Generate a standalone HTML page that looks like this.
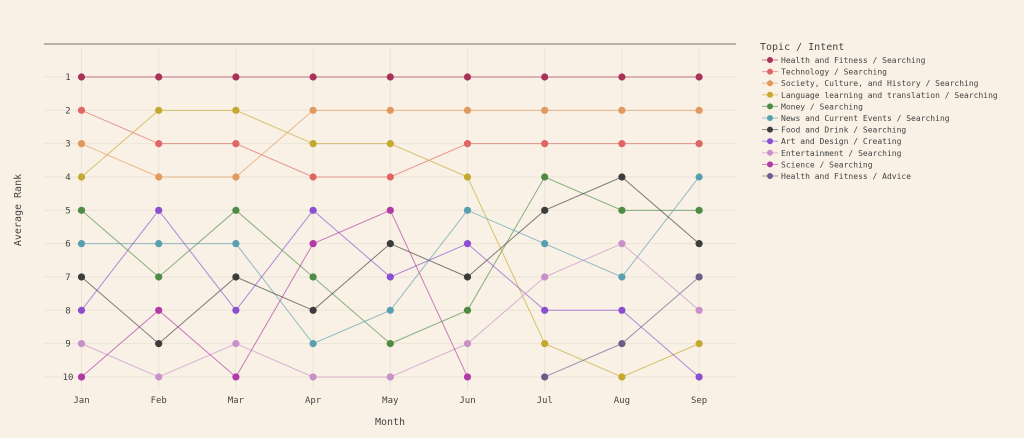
<!DOCTYPE html><html><head><style>body{margin:0;background:#f9f1e5}svg{display:block}text{font-family:"DejaVu Sans Mono","Liberation Mono",monospace;fill:#444}</style></head><body>
<svg width="1024" height="438" xmlns="http://www.w3.org/2000/svg">
<rect width="1024" height="438" fill="#f9f1e5"/>
<g id="grid" stroke="#ece4d6" stroke-width="1"></g>
<line x1="44" y1="44" x2="736" y2="44" stroke="#bbb0a6" stroke-width="2"/>
<g id="lbl" font-size="9" text-anchor="middle"></g>
<text x="390" y="425" font-size="10" text-anchor="middle">Month</text>
<text transform="translate(21,210) rotate(-90)" font-size="10" text-anchor="middle">Average Rank</text>
<g id="data"></g>
<g id="leg" font-size="8"></g>
<text x="760" y="50" font-size="10">Topic / Intent</text>
</svg>
<script>
const X=i=>81.5+i*77.2, Y=r=>77+(r-1)*33.33;
const ns="http://www.w3.org/2000/svg";
function el(p,t,a,txt){const e=document.createElementNS(ns,t);for(const k in a)e.setAttribute(k,a[k]);if(txt)e.textContent=txt;document.getElementById(p).appendChild(e);return e;}
const m=["Jan","Feb","Mar","Apr","May","Jun","Jul","Aug","Sep"];
for(let i=0;i<9;i++){el("grid","line",{x1:X(i),x2:X(i),y1:48,y2:390});el("lbl","text",{x:X(i),y:403},m[i]);}
for(let r=1;r<=10;r++){el("grid","line",{x1:44,x2:736,y1:Y(r),y2:Y(r)});el("lbl","text",{x:68,y:Y(r)+3},String(r));}
const S=[["Health and Fitness / Searching","#a8325a",[1,1,1,1,1,1,1,1,1]],
["Technology / Searching","#e06666",[2,3,3,4,4,3,3,3,3]],
["Society, Culture, and History / Searching","#e0995e",[3,4,4,2,2,2,2,2,2]],
["Language learning and translation / Searching","#c4a830",[4,2,2,3,3,4,9,10,9]],
["Money / Searching","#4e8c46",[5,7,5,7,9,8,4,5,5]],
["News and Current Events / Searching","#5a9fb0",[6,6,6,9,8,5,6,7,4]],
["Food and Drink / Searching","#3c3c3c",[7,9,7,8,6,7,5,4,6]],
["Art and Design / Creating","#8a4fd0",[8,5,8,5,7,6,8,8,10]],
["Entertainment / Searching","#c990c9",[9,10,9,10,10,9,7,6,8]],
["Science / Searching","#b03aa8",[10,8,10,6,5,10,null,null,null]],
["Health and Fitness / Advice","#6a5f8a",[null,null,null,null,null,null,10,9,7]]];
S.forEach((s,k)=>{const pts=s[2].map((v,i)=>v==null?null:[X(i),Y(v)]).filter(p=>p);
el("data","polyline",{points:pts.map(p=>p.join(",")).join(" "),fill:"none",stroke:s[1],"stroke-width":1,"stroke-opacity":0.65});
pts.forEach(p=>el("data","circle",{cx:p[0],cy:p[1],r:3.6,fill:s[1]}));
const y=60+k*11.6;el("leg","line",{x1:762,x2:778,y1:y,y2:y,stroke:s[1],"stroke-opacity":0.6});
el("leg","circle",{cx:770,cy:y,r:3,fill:s[1]});el("leg","text",{x:781,y:y+3},s[0]);});
</script></body></html>
